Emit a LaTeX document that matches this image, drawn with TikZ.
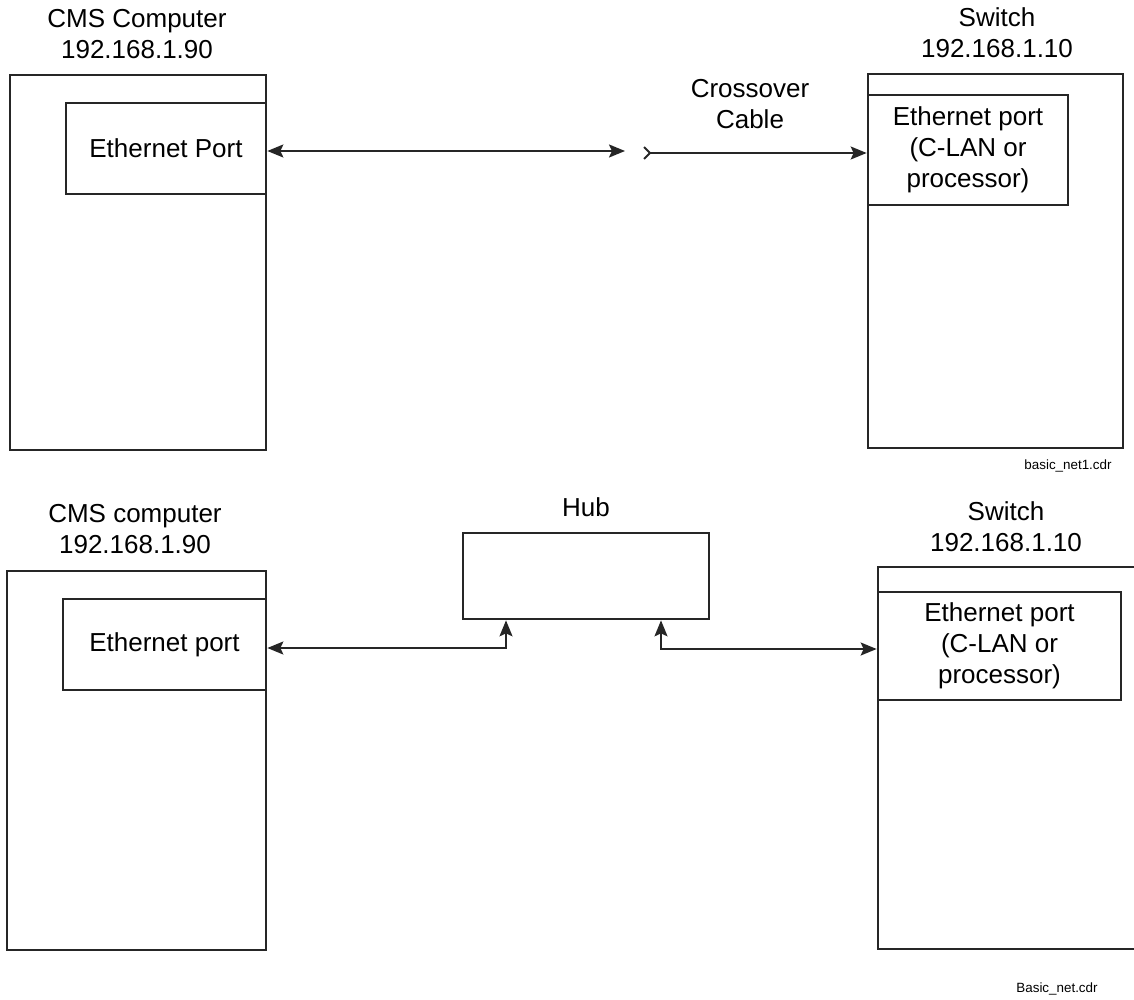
\documentclass[tikz,border=0pt]{standalone}
\usepackage{fontspec}
\setmainfont{Liberation Sans}
\usetikzlibrary{arrows.meta}
\begin{document}
\begin{tikzpicture}[x=0.5pt,y=-0.5pt,
  box/.style={draw=black!85,line width=1.35pt,inner sep=0pt,anchor=center},
  lbl/.style={font=\fontsize{13}{15.5}\selectfont,align=center,inner sep=0pt},
  tiny/.style={font=\fontsize{6.7}{8}\selectfont,inner sep=0pt},
  conn/.style={line width=1pt,draw=black!85,
    {Stealth[length=8pt,width=6.5pt,inset=1.5pt]}-{Stealth[length=8pt,width=6.5pt,inset=1.5pt]}},
  tipped/.style={line width=1pt,draw=black!85,
    {Straight Barb[reversed,length=3pt,width=6pt,line width=1pt]}-{Stealth[length=8pt,width=6.5pt,inset=1.5pt]}}]
\useasboundingbox (0,0) rectangle (1134,1000);

% ---- top diagram ----
\node[box,minimum width=128pt,minimum height=187.5pt] (tlout) at (138,262.5) {};
\node[box,minimum width=100pt,minimum height=45.5pt,lbl] (tlin) at (166,148.5) {Ethernet Port};
\node[lbl] (tltitle) at (137,34) {CMS Computer\\192.168.1.90};

\node[box,minimum width=127.5pt,minimum height=187pt] (trout) at (995.5,261) {};
\node[box,minimum width=100pt,minimum height=55pt,lbl] (trin) at (968,150) {Ethernet port\\(C-LAN or\\processor)};
\node[lbl] (trtitle) at (997,33) {Switch\\192.168.1.10};

\node[lbl] (cable) at (750,104) {Crossover\\Cable};
\coordinate (cx1) at (625,151);
\coordinate (cx2) at (643,153);
\draw[conn] (tlin.east |- cx1) -- (cx1);
\draw[tipped] (cx2) -- (trin.west |- cx2);

\node[tiny] (f1) at (1068,466) {basic\_net1.cdr};

% ---- bottom diagram ----
\node[box,minimum width=129.5pt,minimum height=189.5pt] (blout) at (136.5,760.5) {};
\node[box,minimum width=101.5pt,minimum height=45.5pt,lbl] (blin) at (164.5,644.5) {Ethernet port};
\node[lbl] (bltitle) at (135,529.5) {CMS computer\\192.168.1.90};

\node[box,minimum width=123pt,minimum height=43pt] (hub) at (586,576) {};
\node[lbl] (hubtitle) at (586,507) {Hub};

\node[box,minimum width=131pt,minimum height=191pt] (brout) at (1009,758) {};
\node[box,minimum width=121.5pt,minimum height=54pt,lbl] (brin) at (999.5,646) {Ethernet port\\(C-LAN or\\processor)};
\node[lbl] (brtitle) at (1006,527) {Switch\\192.168.1.10};

\coordinate (j1) at (506,648);
\coordinate (j2) at (661,649);
\draw[conn] (blin.east |- j1) -- (j1) -- (hub.south -| j1);
\draw[conn] (hub.south -| j2) -- (j2) -- (brin.west |- j2);

\node[tiny] (f2) at (1057,989) {Basic\_net.cdr};
\end{tikzpicture}
\end{document}
